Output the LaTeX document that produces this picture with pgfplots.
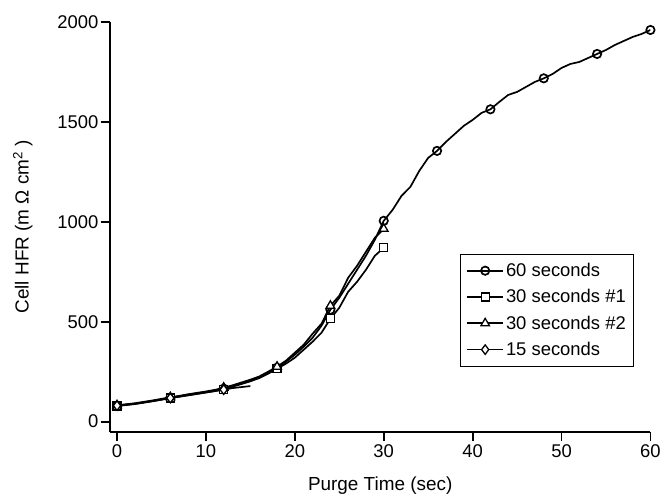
\documentclass[border=0pt]{standalone}
\usepackage{pgfplots}
\pgfplotsset{compat=1.18}
\usepackage{fontspec}
\setmainfont{Liberation Sans}
\begin{document}
\begin{tikzpicture}
\begin{axis}[
  scale only axis,
  width=541bp, height=410bp,
  xmin=-0.8, xmax=60, ymin=-50, ymax=2000,
  axis x line*=bottom, axis y line*=left,
  axis line style={line width=1.8pt},
  xtick={0,10,...,60}, ytick={0,500,...,2000},
  tick align=outside,
  major tick length=9bp,
  tick style={line width=1.8pt, black},
  /pgf/number format/assume math mode=true,
  /pgf/number format/1000 sep={},
  tick label style={font=\fontsize{18.5}{21}\selectfont},
  yticklabel style={xshift=1bp},
  label style={font=\fontsize{19}{22}\selectfont},
  xlabel={Purge Time (sec)},
  ylabel={Cell HFR (m Ω cm\textsuperscript{2} )},
  xlabel style={yshift=-12.5bp},
  ylabel style={yshift=18bp},
  legend cell align=left,
  legend image code/.code={\draw[mark repeat=2,mark phase=2] plot coordinates {(0bp,0bp)(18bp,0bp)(36bp,0bp)};},
  legend style={at={(rel axis cs:0.970,0.434)}, anchor=north east,
    font=\fontsize{18.5}{21}\selectfont, draw=black, line width=0.9pt,
    row sep=7.5bp, inner xsep=6bp, inner ysep=7bp},
  every axis plot/.append style={line width=1.7pt, black},
  mark options={solid, fill=white, line width=1.3pt},
]
\addplot[mark=o, mark size=4.2pt, mark repeat=6, mark options={fill=white}] coordinates {
(0,80) (1,85) (2,90) (3,97) (4,104) (5,112) (6,120) (7,127) (8,135) (9,142) (10,148)
(11,156) (12,165) (13,178) (14,192) (15,205) (16,222) (17,245) (18,270) (19,300) (20,335)
(21,375) (22,420) (23,480) (24,560) (25,620) (26,690) (27,760) (28,830) (29,910) (30,1005)
(31,1060) (32,1130) (33,1175) (34,1255) (35,1320) (36,1355) (37,1400) (38,1440) (39,1480) (40,1510)
(41,1545) (42,1563) (43,1600) (44,1635) (45,1650) (46,1675) (47,1700) (48,1718) (49,1740) (50,1770)
(51,1790) (52,1800) (53,1820) (54,1840) (55,1860) (56,1885) (57,1905) (58,1925) (59,1940) (60,1960)
};
\addlegendentry{60 seconds}
\addplot[mark=square*, mark size=4pt, mark repeat=6] coordinates {
(0,78) (1,83) (2,88) (3,95) (4,102) (5,110) (6,118) (7,125) (8,132) (9,139) (10,146)
(11,153) (12,162) (13,175) (14,188) (15,202) (16,218) (17,240) (18,265) (19,290) (20,320)
(21,360) (22,400) (23,445) (24,515) (25,570) (26,650) (27,700) (28,760) (29,830) (30,870)
};
\addlegendentry{30 seconds \#1}
\addplot[mark=triangle*, mark size=5pt, mark repeat=6] coordinates {
(0,82) (1,87) (2,92) (3,99) (4,106) (5,114) (6,122) (7,129) (8,137) (9,144) (10,151)
(11,159) (12,170) (13,182) (14,196) (15,210) (16,226) (17,250) (18,275) (19,305) (20,345)
(21,385) (22,440) (23,490) (24,580) (25,630) (26,720) (27,780) (28,850) (29,920) (30,965)
};
\addlegendentry{30 seconds \#2}
\addplot[mark=diamond*, mark size=4.8pt, mark repeat=6] coordinates {
(0,80) (1,84) (2,89) (3,96) (4,103) (5,110) (6,118) (7,125) (8,132) (9,139) (10,146)
(11,153) (12,160) (13,168) (14,173) (15,178)
};
\addlegendentry{15 seconds}
\end{axis}
\path ([xshift=-110bp,yshift=-64bp]current axis.south west);
\path ([xshift=13bp,yshift=22bp]current axis.north east);
\end{tikzpicture}
\end{document}
